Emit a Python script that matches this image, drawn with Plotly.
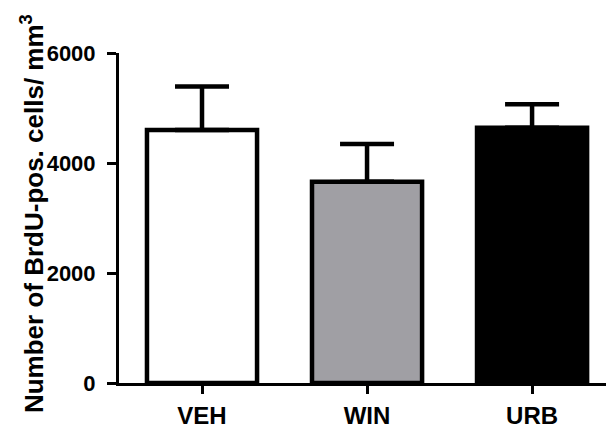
import plotly.graph_objects as go

# Group means and SEM (upper error only)
groups = ["VEH", "WIN", "URB"]
means = [4600, 3660, 4640]
sem = [790, 685, 430]
fills = ["#ffffff", "#a09fa4", "#000000"]

y_ticks = [0, 2000, 4000, 6000]

FONT = "Liberation Sans"

fig = go.Figure(
    go.Bar(
        x=list(range(len(groups))),
        y=means,
        width=0.667,
        marker=dict(color=fills, line=dict(color="#000000", width=4.5)),
        error_y=dict(
            type="data",
            array=sem,
            arrayminus=[0] * len(sem),
            symmetric=False,
            color="#000000",
            thickness=4.5,
            width=27,
        ),
        hoverinfo="skip",
    )
)

fig.update_layout(
    width=606,
    height=428,
    margin=dict(l=119, r=0, t=53, b=45),
    paper_bgcolor="#ffffff",
    plot_bgcolor="#ffffff",
    showlegend=False,
    font=dict(family=FONT, color="#000000"),
    xaxis=dict(
        range=[-0.503, 2.448],
        tickmode="array",
        tickvals=list(range(len(groups))),
        ticktext=[f"<b>{g}</b>" for g in groups],
        showgrid=False,
        zeroline=False,
        showline=True,
        linecolor="#000000",
        linewidth=3,
        ticks="outside",
        ticklen=8,
        tickwidth=3,
        tickcolor="#000000",
        tickfont=dict(size=24, family=FONT, color="#000000"),
        ticklabelstandoff=1,
        fixedrange=True,
    ),
    yaxis=dict(
        range=[0, 6000],
        tickmode="array",
        tickvals=y_ticks,
        ticktext=[f"<b>{v}</b>" for v in y_ticks],
        showgrid=False,
        zeroline=False,
        showline=True,
        linecolor="#000000",
        linewidth=3,
        ticks="outside",
        ticklen=9,
        tickwidth=3,
        tickcolor="#000000",
        tickfont=dict(size=22, family=FONT, color="#000000"),
        ticklabelstandoff=7,
        fixedrange=True,
    ),
    annotations=[
        dict(
            text="<b>Number of BrdU-pos. cells/ mm<sup>3</sup></b>",
            xref="paper",
            yref="paper",
            x=(32 - 119) / 487,
            y=0.512,
            xanchor="center",
            yanchor="middle",
            textangle=-90,
            showarrow=False,
            font=dict(size=26, family=FONT, color="#000000"),
        )
    ],
)

fig.write_html("out.html")
